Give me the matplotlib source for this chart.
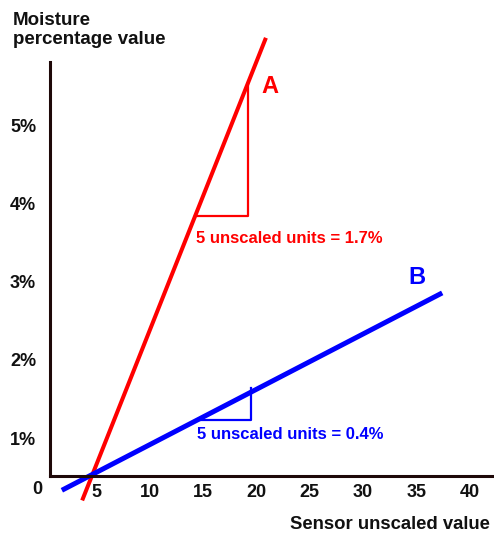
import numpy as np
import matplotlib
matplotlib.use('Agg')
from matplotlib import pyplot as plt

plt.rcParams['font.family'] = ['Liberation Sans', 'DejaVu Sans']
plt.rcParams['font.weight'] = 'bold'

# sensor reading (unscaled) vs moisture percentage, two calibration lines
a_x = [3.7, 20.9]
a_y = [0.2, 6.13]
b_x = [1.8, 37.4]
b_y = [0.33, 2.86]

# slope triangles: start point on the line, run in sensor units, rise in %
run_units = 5
tri_a_start = (14.26, 3.84)
tri_a_rise = 1.7
tri_b_start = (14.54, 1.235)
tri_b_rise = 0.4

x_ticks = [5, 10, 15, 20, 25, 30, 35, 40]
y_ticks = [1, 2, 3, 4, 5]
y_tick_labels = ["1%", "2%", "3%", "4%", "5%"]

red = "#ff0000"
blue = "#0000ff"
ink = "#111111"

fig = plt.figure(figsize=(4.94, 5.35), dpi=100)
ax = fig.add_axes([50 / 494, 59 / 535, 442 / 494, 414 / 535])
ax.set_xlim(0.69, 42.06)
ax.set_ylim(0.513, 5.82)

for side in ["top", "right"]:
    ax.spines[side].set_visible(False)
for side in ["left", "bottom"]:
    ax.spines[side].set_color("#1e0808")
    ax.spines[side].set_linewidth(2.2)

ax.set_xticks(x_ticks)
ax.set_xticklabels([str(t) for t in x_ticks])
ax.set_yticks(y_ticks)
ax.set_yticklabels(y_tick_labels)
ax.tick_params(axis="both", length=0, labelsize=13, labelcolor=ink)
ax.tick_params(axis="x", pad=6)
ax.tick_params(axis="y", pad=10)
for lbl in ax.get_xticklabels() + ax.get_yticklabels():
    lbl.set_fontweight("bold")

ax.text(-0.5, 0.34, "0", fontsize=13, fontweight="bold", color=ink,
        ha="center", va="center", clip_on=False)

# calibration lines
ax.plot(a_x, a_y, color=red, lw=2.9, solid_capstyle="butt", clip_on=False)
ax.plot(b_x, b_y, color=blue, lw=3.6, solid_capstyle="butt", clip_on=False)

# slope triangles
x0, y0 = tri_a_start
ax.plot([x0, x0 + run_units, x0 + run_units], [y0, y0, y0 + tri_a_rise],
        color=red, lw=1.6)
x0, y0 = tri_b_start
ax.plot([x0, x0 + run_units, x0 + run_units], [y0, y0, y0 + tri_b_rise],
        color=blue, lw=1.6)

ax.text(14.35, 3.56, "5 unscaled units = %.1f%%" % tri_a_rise, color=red,
        fontsize=12, fontweight="bold", ha="left", va="center")
ax.text(14.45, 1.04, "5 unscaled units = %.1f%%" % tri_b_rise, color=blue,
        fontsize=12, fontweight="bold", ha="left", va="center")

ax.text(20.5, 5.51, "A", color=red, fontsize=17, fontweight="bold",
        ha="left", va="center")
ax.text(34.2, 3.06, "B", color=blue, fontsize=17, fontweight="bold",
        ha="left", va="center")

fig.text(13 / 494, 1 - 12 / 535, "Moisture\npercentage value", fontsize=13.5,
         fontweight="bold", color=ink, ha="left", va="top", linespacing=1.15)
fig.text(290 / 494, 1 - 529 / 535, "Sensor unscaled value", fontsize=13.3,
         fontweight="bold", color=ink, ha="left", va="baseline")

plt.savefig("out.png", dpi=100)
